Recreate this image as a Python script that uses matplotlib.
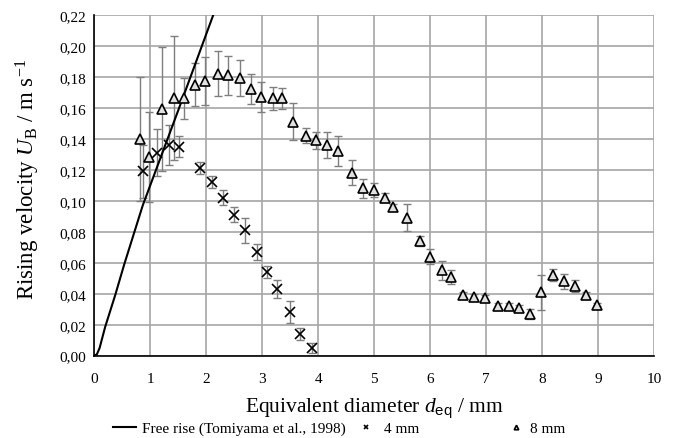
import numpy as np
import matplotlib
matplotlib.use("Agg")
import matplotlib.pyplot as plt
from matplotlib.ticker import FuncFormatter, MultipleLocator

plt.rcParams['font.family'] = ['Liberation Serif', 'DejaVu Serif']
plt.rcParams['mathtext.fontset'] = 'custom'
plt.rcParams['mathtext.rm'] = 'Liberation Serif'
plt.rcParams['mathtext.it'] = 'Liberation Serif:italic'
plt.rcParams['mathtext.sf'] = 'Liberation Sans'

# free rise correlation (Tomiyama et al., 1998)
d_free = [0.0, 0.05, 0.1, 0.2, 0.375, 0.54, 0.87, 1.5, 2.13, 2.3]
u_free = [0.0, 0.0008, 0.005, 0.0187, 0.0387, 0.059, 0.097, 0.158, 0.22, 0.237]

# 4 mm
d_4 = [0.87, 1.12, 1.33, 1.52, 1.89, 2.11, 2.31, 2.50, 2.70, 2.91, 3.08, 3.26, 3.50, 3.68, 3.89]
u_4 = [0.119, 0.131, 0.136, 0.135, 0.121, 0.112, 0.102, 0.091, 0.081, 0.067, 0.054, 0.043, 0.028, 0.014, 0.005]
err_4 = [0.017, 0.015, 0.013, 0.0065, 0.004, 0.004, 0.005, 0.005, 0.008, 0.005, 0.004, 0.006, 0.007, 0.004, 0.003]

# 8 mm
d_8 = [0.82, 0.99, 1.21, 1.42, 1.61, 1.80, 1.99, 2.21, 2.39, 2.61,
       2.80, 2.99, 3.19, 3.36, 3.55, 3.78, 3.97, 4.16, 4.35, 4.60,
       4.81, 4.99, 5.20, 5.33, 5.58, 5.82, 6.00, 6.21, 6.37, 6.58,
       6.79, 6.98, 7.21, 7.40, 7.59, 7.79, 7.98, 8.19, 8.39, 8.59,
       8.78, 8.98]
u_8 = [0.140, 0.128, 0.159, 0.166, 0.166, 0.175, 0.177, 0.182, 0.181, 0.179,
       0.172, 0.167, 0.166, 0.166, 0.151, 0.142, 0.139, 0.136, 0.132, 0.118,
       0.108, 0.107, 0.102, 0.096, 0.089, 0.074, 0.064, 0.055, 0.051, 0.039,
       0.038, 0.037, 0.032, 0.032, 0.031, 0.027, 0.041, 0.052, 0.048, 0.045,
       0.039, 0.033]
err_8 = [0.040, 0.029, 0.040, 0.040, 0.013, 0.014, 0.0155, 0.0145, 0.0125, 0.0117,
         0.0097, 0.0099, 0.0075, 0.0065, 0.012, 0.005, 0.0055, 0.0085, 0.0095, 0.008,
         0.006, 0.0045, 0.003, 0.002, 0.0087, 0.0035, 0.005, 0.006, 0.0045, 0.002,
         0.002, 0.002, 0.002, 0.002, 0.002, 0.003, 0.0113, 0.004, 0.005, 0.004,
         0.002, 0.001]

fig = plt.figure(figsize=(6.73, 4.39), dpi=100)
ax = fig.add_axes([0.1397, 0.1875, 0.972 - 0.1397, 0.964 - 0.1875])

ax.errorbar(d_4, u_4, yerr=err_4, fmt='none', ecolor='#7f7f7f', elinewidth=1.0,
            capsize=3, capthick=1.0, zorder=3)
ax.errorbar(d_8, u_8, yerr=err_8, fmt='none', ecolor='#7f7f7f', elinewidth=1.0,
            capsize=3, capthick=1.0, zorder=3)
h_free, = ax.plot(d_free, u_free, color='black', lw=1.5, zorder=4,
                  label='Free rise (Tomiyama et al., 1998)')
h_4, = ax.plot(d_4, u_4, ls='none', marker='x', ms=6.5, mew=1.2, color='black', zorder=5,
               label='4 mm')
h_8, = ax.plot(d_8, u_8, ls='none', marker='^', ms=6.5, mew=1.2, mec='black', mfc='#e0e0e0',
               zorder=5, label='8 mm')

ax.set_xlim(0, 10)
ax.set_ylim(0, 0.22)
ax.xaxis.set_major_locator(MultipleLocator(1))
ax.yaxis.set_major_locator(MultipleLocator(0.02))
ax.yaxis.set_major_formatter(FuncFormatter(lambda v, p: f"{v:.2f}".replace('.', ',')))
ax.tick_params(length=0, labelsize=11)
ax.tick_params(axis='x', pad=12)
ax.tick_params(axis='y', pad=6)
ax.grid(True, color='#a6a6a6', lw=1.2)
ax.set_axisbelow(True)
for s in ['top', 'right']:
    ax.spines[s].set_visible(False)
for s in ['left', 'bottom']:
    ax.spines[s].set_color('black')
    ax.spines[s].set_linewidth(1.2)
    ax.spines[s].set_zorder(2.5)

ax.set_xlabel(r'Equivalent diameter $d_\mathsf{eq}$ / mm', fontsize=15.5)
ax.xaxis.set_label_coords(0.5, -0.117)
ax.set_ylabel(r'Rising velocity $U_\mathrm{B}$ / m s$^{-1}$', fontsize=16.5)
ax.yaxis.set_label_coords(-0.093, 0.52)

leg1 = fig.legend(handles=[h_free, h_4], loc='center left', bbox_to_anchor=(0.168, 0.022),
                  ncol=2, frameon=False, fontsize=11, markerscale=0.5, handlelength=1.5,
                  columnspacing=0.6, handletextpad=0.4, borderpad=0, borderaxespad=0)
leg2 = fig.legend(handles=[h_8], loc='center left', bbox_to_anchor=(0.755, 0.022),
                  frameon=False, fontsize=11, markerscale=0.5, handlelength=1.0,
                  handletextpad=0.4, borderpad=0, borderaxespad=0)

fig.savefig('out.png', dpi=100)
